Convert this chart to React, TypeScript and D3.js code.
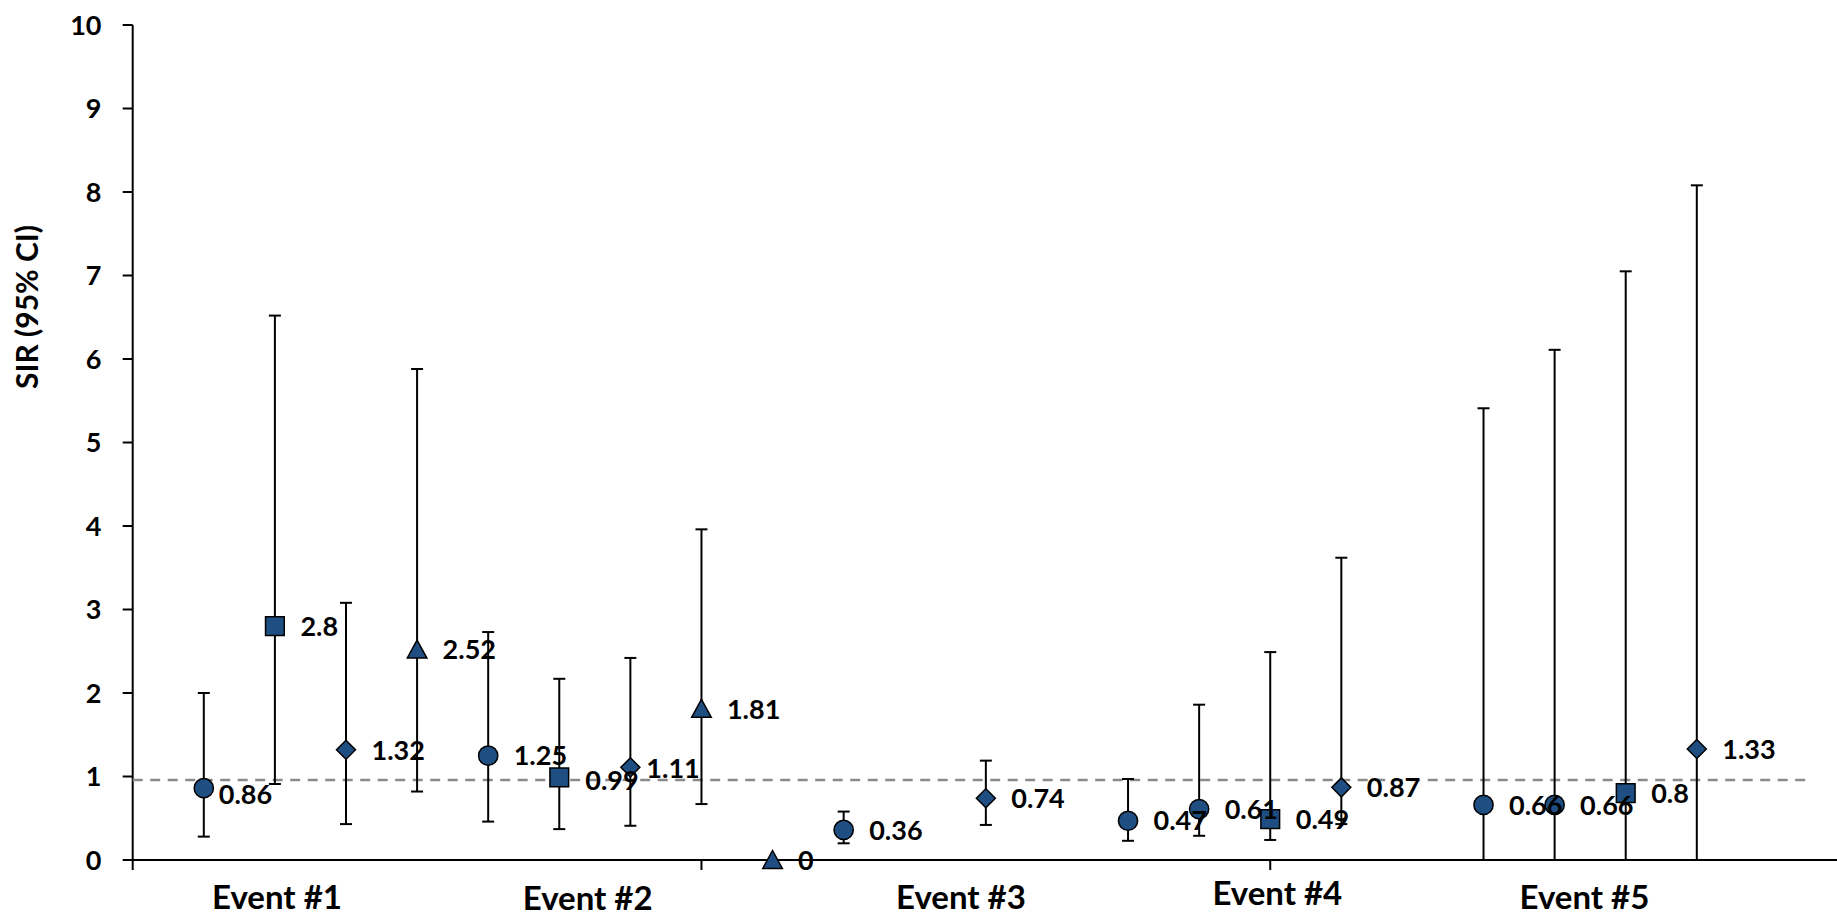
import React from "react";
import * as d3 from "d3";

// ---- data ----
const positions = [1, 2, 3, 4, 5, 6, 7, 8, 9, 10, 11, 12, 13, 14, 15, 16, 17, 18, 19, 20, 21, 22];
const shapes: (string | null)[] = [
  "circle", "square", "diamond", "triangle",
  "circle", "square", "diamond", "triangle",
  "triangle", "circle", null, "diamond", null,
  "circle", "circle", "square", "diamond", null,
  "circle", "circle", "square", "diamond",
];
const sir: (number | null)[] = [0.86, 2.8, 1.32, 2.52, 1.25, 0.99, 1.11, 1.81, 0, 0.36, null, 0.74, null, 0.47, 0.61, 0.49, 0.87, null, 0.66, 0.66, 0.8, 1.33];
const lower: (number | null)[] = [0.28, 0.91, 0.43, 0.82, 0.46, 0.37, 0.41, 0.67, null, 0.2, null, 0.42, null, 0.23, 0.29, 0.24, 0.43, null, 0, 0, 0, 0];
const upper: (number | null)[] = [2.0, 6.52, 3.08, 5.88, 2.73, 2.17, 2.42, 3.96, null, 0.58, null, 1.19, null, 0.97, 1.86, 2.49, 3.62, null, 5.41, 6.11, 7.05, 8.08];

const eventLabels = ["Event #1", "Event #2", "Event #3", "Event #4", "Event #5"];
const eventLabelX = [2.03, 6.4, 11.65, 16.1, 20.42];
const eventLabelBaseline = [909, 910, 909, 905, 909];

const yTicks = [0, 1, 2, 3, 4, 5, 6, 7, 8, 9, 10];
const xTicks = [0, 8, 16];
const refValue = 0.958;

// label nudges (index -> [dx, dy])
const labelNudge: Record<number, [number, number]> = { 0: [15, 6], 5: [26, 3], 6: [16, 1] };

const W = 1837;
const H = 917;
const FONT = "Lato, 'Open Sans', sans-serif";
const FILL = "#1f4e82";

export default function App() {
  const x = d3.scaleLinear().domain([0, 24]).range([132.7, 1839]);
  const y = d3.scaleLinear().domain([0, 10]).range([860, 25]);

  const sym = (shape: string) => {
    if (shape === "circle") return d3.symbol(d3.symbolCircle, 290)();
    if (shape === "square") return d3.symbol(d3.symbolSquare, 350)();
    if (shape === "diamond") return "M0,-9.5L9.5,0L0,9.5L-9.5,0Z";
    return "M0,-9.5L9.8,8.5L-9.8,8.5Z";
  };

  return (
    <svg width={W} height={H} style={{ position: "absolute", left: 0, top: 0, display: "block", background: "#fff" }}
      fontFamily={FONT}>
      {/* y axis */}
      <line x1={x(0)} x2={x(0)} y1={y(10)} y2={y(0)} stroke="#000" strokeWidth={2} />
      {yTicks.map((t) => (
        <g key={t}>
          <line x1={x(0) - 10} x2={x(0)} y1={y(t)} y2={y(t)} stroke="#000" strokeWidth={2} />
          <text x={101.5} y={y(t)} dy="0.36em" textAnchor="end" fontSize={27} fontWeight="bold" fill="#000">{t}</text>
        </g>
      ))}
      <text transform={`translate(27,307) rotate(-90)`} textAnchor="middle" dy="0.36em" fontSize={30} fontWeight="bold">SIR (95% CI)</text>

      {/* reference dashed line */}
      <line x1={x(0)} x2={1810} y1={y(refValue)} y2={y(refValue)} stroke="#8a8a8a" strokeWidth={2.5} strokeDasharray="10,7.5" />

      {/* error bars */}
      {positions.map((p, i) => {
        if (sir[i] === null || lower[i] === null || upper[i] === null) return null;
        const cx = x(p);
        return (
          <g key={"e" + i} stroke="#000" strokeWidth={2}>
            <line x1={cx} x2={cx} y1={y(lower[i] as number)} y2={y(upper[i] as number)} />
            <line x1={cx - 6} x2={cx + 6} y1={y(upper[i] as number)} y2={y(upper[i] as number)} />
            <line x1={cx - 6} x2={cx + 6} y1={y(lower[i] as number)} y2={y(lower[i] as number)} />
          </g>
        );
      })}

      {/* x axis */}
      <line x1={x(0)} x2={W} y1={y(0)} y2={y(0)} stroke="#000" strokeWidth={2} />
      {xTicks.map((t) => (
        <line key={t} x1={x(t)} x2={x(t)} y1={y(0)} y2={y(0) + 10} stroke="#000" strokeWidth={2} />
      ))}
      {eventLabels.map((l, i) => (
        <text key={l} x={x(eventLabelX[i])} y={eventLabelBaseline[i]} textAnchor="middle" fontSize={33} fontWeight="bold">{l}</text>
      ))}

      {/* markers */}
      {positions.map((p, i) => {
        const v = sir[i];
        const s = shapes[i];
        if (v === null || s === null) return null;
        return (
          <path key={"m" + i} d={sym(s) as string} transform={`translate(${x(p)},${y(v)})`} fill={FILL} stroke="#000" strokeWidth={1.5} />
        );
      })}

      {/* data labels */}
      {positions.map((p, i) => {
        const v = sir[i];
        if (v === null) return null;
        const [dx, dy] = labelNudge[i] || [25.5, 0];
        return (
          <text key={"l" + i} x={x(p) + dx} y={y(v) + dy} dy="0.36em" fontSize={27} fontWeight="bold" fill="#000">{String(v)}</text>
        );
      })}
    </svg>
  );
}
